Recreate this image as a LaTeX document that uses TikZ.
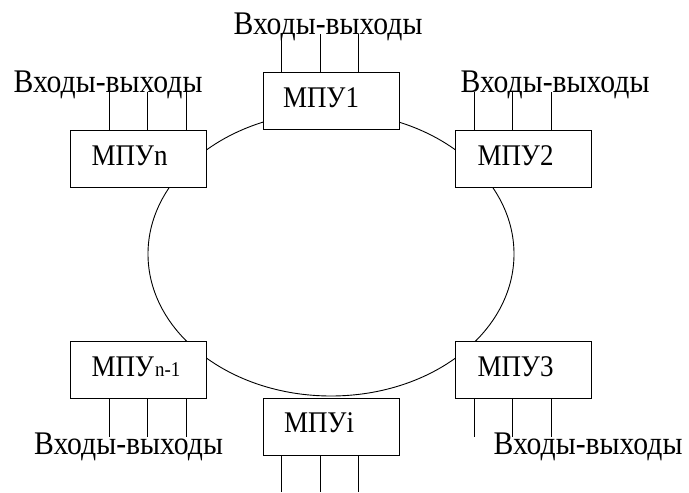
\documentclass[tikz,border=0pt]{standalone}
\usepackage{fontspec}
\setmainfont{Liberation Serif}[FakeStretch=0.9]
\begin{document}
\begin{tikzpicture}[x=1pt,y=1pt,
  line width=0.9pt,
  unit/.style={draw, fill=white, minimum width=136pt, minimum height=57pt, inner sep=0pt},
  unitname/.style={anchor=base west, inner sep=0pt, font=\fontsize{30}{34}\selectfont},
  io/.style={anchor=base, inner sep=0pt, font=\fontsize{33}{38}\selectfont},
  wire/.style={line width=0.9pt}]
\useasboundingbox (0,0) rectangle (689,493);

% ring bus
\draw (331,239) ellipse [x radius=183, y radius=142];

% interface units
\node[unit] (m1)  at (331,392.5) {};
\node[unit] (mn)  at (138.5,334.5) {};
\node[unit] (m2)  at (523.5,334.5) {};
\node[unit] (mn1) at (138.5,123) {};
\node[unit] (m3)  at (523.5,123) {};
\node[unit] (mi)  at (331,66.5) {};

\node[unitname] (l1)  at ([xshift=20pt,yshift=-36pt]m1.north west) {МПУ1};
\node[unitname] (ln)  at ([xshift=21pt,yshift=-36pt]mn.north west) {МПУn};
\node[unitname] (l2)  at ([xshift=22pt,yshift=-36pt]m2.north west) {МПУ2};
\node[unitname] (ln1) at ([xshift=21pt,yshift=-35pt]mn1.north west) {МПУ\hspace{1pt}{\fontsize{21}{24}\selectfont n-1}};
\node[unitname] (l3)  at ([xshift=22pt,yshift=-35pt]m3.north west) {МПУ3};
\node[unitname] (li)  at ([xshift=21pt,yshift=-35pt]mi.north west) {МПУi};

% input/output captions
\node[io] (io1)  at (328,458) {Входы-выходы};
\node[io] (ion)  at (108,400) {Входы-выходы};
\node[io] (io2)  at (555,400) {Входы-выходы};
\node[io] (ion1) at (128.5,38) {Входы-выходы};
\node[io] (io3)  at (588,38) {Входы-выходы};

% input/output lines
\foreach \dx in {19,58,96} {
  \draw[wire] ([xshift=\dx pt]m1.north west) -- ++(0,38);
  \draw[wire] ([xshift=\dx pt]mi.south west) -- ++(0,-37);
}
\foreach \dx in {39,77,116} {
  \draw[wire] ([xshift=\dx pt]mn.north west) -- ++(0,38);
  \draw[wire] ([xshift=\dx pt]mn1.south west) -- ++(0,-38);
}
\foreach \dx in {19,57,96} {
  \draw[wire] ([xshift=\dx pt]m2.north west) -- ++(0,38);
  \draw[wire] ([xshift=\dx pt]m3.south west) -- ++(0,-38);
}
\end{tikzpicture}
\end{document}
